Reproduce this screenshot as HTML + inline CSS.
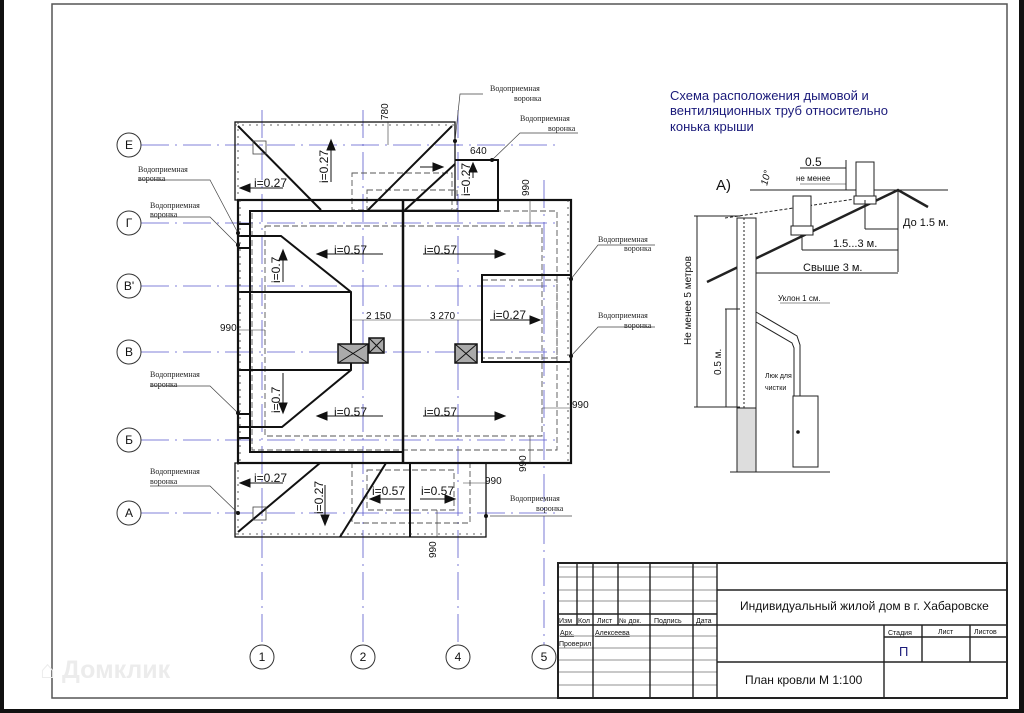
<!DOCTYPE html>
<html><head><meta charset="utf-8"><style>
html,body{margin:0;padding:0;background:#fff;width:1024px;height:713px;overflow:hidden}
svg{display:block}
.s{font-family:"Liberation Serif","DejaVu Serif",serif;font-size:8px;fill:#222}
.a{font-family:"Liberation Sans",sans-serif;fill:#111}
</style></head><body>
<svg width="1024" height="713" viewBox="0 0 1024 713" xmlns="http://www.w3.org/2000/svg">
<rect x="0" y="0" width="4" height="713" fill="#111"/>
<rect x="1019" y="0" width="5" height="713" fill="#111"/>
<rect x="0" y="709" width="1024" height="4" fill="#111"/>
<rect x="52" y="4" width="955" height="694" fill="none" stroke="#555" stroke-width="1.5"/>
<text x="40" y="678" font-family="Liberation Sans,sans-serif" font-size="25" font-weight="bold" fill="#ececec">⌂ Домклик</text>

<!-- axes -->
<g stroke="#5a5acc" stroke-width="0.8" stroke-dasharray="28,6,2,6" fill="none">
<line x1="141" y1="145" x2="560" y2="145"/><line x1="141" y1="223" x2="560" y2="223"/>
<line x1="141" y1="286" x2="560" y2="286"/><line x1="141" y1="352" x2="560" y2="352"/>
<line x1="141" y1="440" x2="560" y2="440"/><line x1="141" y1="513" x2="560" y2="513"/>
<line x1="262" y1="110" x2="262" y2="645"/><line x1="363" y1="110" x2="363" y2="645"/>
<line x1="458" y1="110" x2="458" y2="645"/><line x1="544" y1="180" x2="544" y2="645"/>
</g>
<g fill="#fff" stroke="#333" stroke-width="1">
<circle cx="129" cy="145" r="12"/><circle cx="129" cy="223" r="12"/><circle cx="129" cy="286" r="12"/>
<circle cx="129" cy="352" r="12"/><circle cx="129" cy="440" r="12"/><circle cx="129" cy="513" r="12"/>
<circle cx="262" cy="657" r="12"/><circle cx="363" cy="657" r="12"/><circle cx="458" cy="657" r="12"/><circle cx="544" cy="657" r="12"/>
</g>
<g class="a" font-size="12" text-anchor="middle">
<text x="129" y="149">Е</text><text x="129" y="227">Г</text><text x="129" y="290">В'</text><text x="129" y="356">В</text>
<text x="129" y="444">Б</text><text x="129" y="517">А</text>
<text x="262" y="661">1</text><text x="363" y="661">2</text><text x="458" y="661">4</text><text x="544" y="661">5</text>
</g>

<!-- dashed -->
<g stroke="#555" stroke-width="0.9" stroke-dasharray="6,3" fill="none">
<rect x="265" y="226" width="277" height="210"/>
<rect x="252" y="211" width="305" height="239"/>
<rect x="352" y="173" width="100" height="37"/>
<rect x="367" y="190" width="90" height="20"/>
<rect x="352" y="463" width="118" height="60"/>
<rect x="367" y="470" width="87" height="40"/>
<rect x="482" y="280" width="75" height="78"/>
</g>

<!-- roof plan thick -->
<g stroke="#111" fill="none" stroke-width="2">
<rect x="235" y="122" width="220" height="78" stroke-width="1.3"/>
<rect x="238" y="200" width="333" height="263" stroke-width="2.2"/>
<polyline points="455,160 498,160 498,211 250,211 250,452 403,452"/>
<line x1="403" y1="200" x2="403" y2="463" stroke-width="2.5"/>
<rect x="235" y="463" width="251" height="74" stroke-width="1.3"/>
<line x1="410" y1="463" x2="410" y2="537"/>
<line x1="238" y1="126" x2="321" y2="210"/>
<line x1="452" y1="126" x2="368" y2="210"/>
<line x1="455" y1="164" x2="405" y2="210"/>
<polyline points="238,236 281,236 351,292 351,370 282,427 238,427"/>
<line x1="238" y1="292" x2="351" y2="292"/><line x1="238" y1="370" x2="351" y2="370"/>
<polyline points="571,275 482,275 482,362 571,362"/>
<line x1="238" y1="532" x2="320" y2="463"/>
<line x1="340" y1="537" x2="386" y2="463"/>
<line x1="238" y1="224" x2="250" y2="224"/><line x1="238" y1="248" x2="250" y2="248"/>
<line x1="238" y1="414" x2="250" y2="414"/><line x1="238" y1="438" x2="250" y2="438"/>
</g>
<g stroke="#333" stroke-width="0.8" stroke-dasharray="2,5" fill="none">
<line x1="235" y1="125" x2="455" y2="125"/><line x1="238" y1="122" x2="238" y2="200"/>
<line x1="235" y1="534" x2="486" y2="534"/><line x1="238" y1="463" x2="238" y2="537"/>
<line x1="568" y1="200" x2="568" y2="463"/><line x1="240" y1="200" x2="240" y2="463"/>
</g>
<!-- chimneys -->
<g stroke="#111" stroke-width="1.5" fill="#aaa">
<rect x="338" y="344" width="30" height="19"/><rect x="369" y="338" width="15" height="15"/><rect x="455" y="344" width="22" height="19"/>
</g>
<g stroke="#111" stroke-width="1"><line x1="369" y1="338" x2="384" y2="353"/><line x1="384" y1="338" x2="369" y2="353"/>
<line x1="338" y1="344" x2="368" y2="363"/><line x1="368" y1="344" x2="338" y2="363"/><line x1="455" y1="344" x2="477" y2="363"/><line x1="477" y1="344" x2="455" y2="363"/></g>
<g fill="none" stroke="#444" stroke-width="0.8"><rect x="253" y="141" width="13" height="13"/><rect x="253" y="507" width="13" height="13"/></g>

<!-- slope labels & arrows -->
<g class="a" font-size="12">
<text x="334" y="254">i=0.57</text><text x="424" y="254">i=0.57</text>
<text x="334" y="416">i=0.57</text><text x="424" y="416">i=0.57</text>
<text x="493" y="319">i=0.27</text><text x="254" y="187">i=0.27</text><text x="254" y="482">i=0.27</text>
<text x="372" y="495">i=0.57</text><text x="421" y="495">i=0.57</text>
<text transform="translate(328,183) rotate(-90)">i=0.27</text>
<text transform="translate(470,196) rotate(-90)">i=0.27</text>
<text transform="translate(280,283) rotate(-90)">i=0.7</text>
<text transform="translate(280,413) rotate(-90)">i=0.7</text>
<text transform="translate(323,514) rotate(-90)">i=0.27</text>
</g>
<g stroke="#111" stroke-width="1" fill="#111">
<line x1="317" y1="254" x2="383" y2="254"/><polygon points="317,254 327,250 327,258"/>
<line x1="423" y1="254" x2="505" y2="254"/><polygon points="505,254 495,250 495,258"/>
<line x1="317" y1="416" x2="383" y2="416"/><polygon points="317,416 327,412 327,420"/>
<line x1="423" y1="416" x2="505" y2="416"/><polygon points="505,416 495,412 495,420"/>
<line x1="490" y1="320" x2="540" y2="320"/><polygon points="540,320 530,316 530,324"/>
<line x1="240" y1="188" x2="283" y2="188"/><polygon points="240,188 250,184 250,192"/>
<line x1="240" y1="483" x2="283" y2="483"/><polygon points="240,483 250,479 250,487"/>
<line x1="331" y1="182" x2="331" y2="140"/><polygon points="331,140 327,150 335,150"/>
<line x1="283" y1="282" x2="283" y2="250"/><polygon points="283,250 279,260 287,260"/>
<line x1="283" y1="373" x2="283" y2="413"/><polygon points="283,413 279,403 287,403"/>
<line x1="325" y1="485" x2="325" y2="525"/><polygon points="325,525 321,515 329,515"/>
<line x1="473" y1="178" x2="473" y2="163"/><polygon points="473,163 469,172 477,172"/>
<line x1="420" y1="167" x2="443" y2="167"/><polygon points="443,167 433,163 433,171"/>
<line x1="370" y1="499" x2="405" y2="499"/><polygon points="370,499 380,495 380,503"/>
<line x1="420" y1="499" x2="455" y2="499"/><polygon points="455,499 445,495 445,503"/>
</g>
<!-- dims -->
<g stroke="#333" stroke-width="0.6">
<line x1="351" y1="320" x2="482" y2="320"/><line x1="238" y1="330" x2="265" y2="330"/>
<line x1="542" y1="408" x2="571" y2="408"/><line x1="463" y1="483" x2="486" y2="483"/>
<line x1="530" y1="436" x2="530" y2="463"/><line x1="437" y1="510" x2="437" y2="537"/>
<line x1="530" y1="200" x2="530" y2="226"/><line x1="388" y1="122" x2="388" y2="145"/>
</g>
<g class="a" font-size="10">
<text x="366" y="319">2 150</text><text x="430" y="319">3 270</text><text x="220" y="331">990</text>
<text x="572" y="408">990</text><text x="485" y="484">990</text>
<text x="470" y="154">640</text>
<text transform="translate(388,120) rotate(-90)">780</text>
<text transform="translate(529,196) rotate(-90)">990</text>
<text transform="translate(526,472) rotate(-90)">990</text>
<text transform="translate(436,558) rotate(-90)">990</text>
</g>
<!-- leaders -->
<g stroke="#444" stroke-width="0.7" fill="none">
<polyline points="483,94 460,94 455,141"/><polyline points="578,133 520,133 492,160"/>
<polyline points="138,180 210,180 238,233"/><polyline points="150,217 210,217 238,245"/>
<polyline points="150,386 210,386 238,413"/><polyline points="150,486 210,486 238,513"/>
<polyline points="655,245 598,245 571,279"/><polyline points="655,327 598,327 571,356"/>
<polyline points="572,516 490,516"/>
</g>
<g fill="#111"><circle cx="455" cy="141" r="2"/><circle cx="492" cy="160" r="2"/><circle cx="238" cy="233" r="2"/><circle cx="238" cy="245" r="2"/><circle cx="238" cy="413" r="2"/><circle cx="238" cy="513" r="2"/><circle cx="571" cy="279" r="2"/><circle cx="571" cy="356" r="2"/><circle cx="486" cy="516" r="2"/></g>
<g class="s">
<text x="490" y="91">Водоприемная</text><text x="514" y="101">воронка</text>
<text x="520" y="121">Водоприемная</text><text x="548" y="131">воронка</text>
<text x="138" y="172">Водоприемная</text><text x="138" y="181">воронка</text>
<text x="150" y="208">Водоприемная</text><text x="150" y="217">воронка</text>
<text x="150" y="377">Водоприемная</text><text x="150" y="387">воронка</text>
<text x="150" y="474">Водоприемная</text><text x="150" y="484">воронка</text>
<text x="598" y="242">Водоприемная</text><text x="624" y="251">воронка</text>
<text x="598" y="318">Водоприемная</text><text x="624" y="328">воронка</text>
<text x="510" y="501">Водоприемная</text><text x="536" y="511">воронка</text>
</g>

<!-- right scheme -->
<g font-family="Liberation Sans,sans-serif" font-size="13" fill="#1a1a7a">
<text x="670" y="100">Схема расположения дымовой и</text><text x="670" y="115">вентиляционных труб относительно</text><text x="670" y="131">конька крыши</text>
</g>
<text x="716" y="190" class="a" font-size="15">A)</text>
<g stroke="#222" fill="none" stroke-width="1">
<line x1="750" y1="190" x2="948" y2="190"/>
<polyline points="707,282 898,190 928,207" stroke-width="2.5"/>
<line x1="725" y1="218" x2="855" y2="199" stroke-dasharray="3,2"/>
<rect x="737" y="218" width="19" height="190" fill="#fff"/>
<line x1="744" y1="218" x2="744" y2="408" stroke-dasharray="2,2"/>
<rect x="737" y="408" width="19" height="64" fill="#ddd"/>
<line x1="730" y1="472" x2="830" y2="472"/>
<rect x="793" y="396" width="25" height="71" fill="#fff"/>
<polyline points="756,312 797,336 800,345 800,396"/>
<polyline points="756,322 792,343 794,348 794,396"/>
<rect x="793" y="196" width="18" height="30" fill="#fff"/><rect x="791" y="226" width="22" height="9" fill="#fff"/>
<rect x="856" y="162" width="18" height="34" fill="#fff"/><rect x="854" y="196" width="22" height="8" fill="#fff"/>
<line x1="694" y1="216" x2="740" y2="216"/><line x1="694" y1="407" x2="740" y2="407"/><line x1="697" y1="216" x2="697" y2="407"/>
<line x1="725" y1="309" x2="740" y2="309"/><line x1="726" y1="309" x2="726" y2="407"/>
<line x1="865" y1="229" x2="898" y2="229"/><line x1="898" y1="190" x2="898" y2="272"/><line x1="865" y1="200" x2="865" y2="229"/>
<line x1="802" y1="250" x2="898" y2="250"/><line x1="802" y1="236" x2="802" y2="250"/>
<line x1="756" y1="273" x2="898" y2="273"/>
<line x1="846" y1="160" x2="846" y2="190"/><line x1="800" y1="168" x2="846" y2="168"/>
<line x1="800" y1="184" x2="846" y2="184" stroke-width="0.6"/>
<line x1="780" y1="303" x2="830" y2="303" stroke-width="0.6"/>
</g>
<circle cx="798" cy="432" r="1.8" fill="#111"/>
<g class="a" font-size="11">
<text x="903" y="226">До 1.5 м.</text><text x="833" y="247">1.5...3 м.</text><text x="803" y="271">Свыше 3 м.</text>
<text x="805" y="166" font-size="12">0.5</text><text x="796" y="181" font-size="8">не менее</text>
<text x="778" y="301" font-size="8">Уклон 1 см.</text>
<text x="765" y="378" font-size="7">Люк для</text><text x="765" y="390" font-size="7">чистки</text>
<text transform="translate(767,186) rotate(-75)" font-size="10" font-style="italic">10°</text>
<text transform="translate(691,345) rotate(-90)" font-size="10">Не менее 5 метров</text>
<text transform="translate(721,375) rotate(-90)" font-size="10">0.5 м.</text>
</g>

<!-- title block -->
<g stroke="#222" fill="none">
<rect x="558" y="563" width="449" height="135" stroke-width="2"/>
<g stroke-width="0.6">
<line x1="558" y1="567" x2="717" y2="567"/><line x1="558" y1="577" x2="717" y2="577"/><line x1="558" y1="590" x2="717" y2="590"/><line x1="558" y1="601" x2="717" y2="601"/>
<line x1="558" y1="636" x2="717" y2="636"/><line x1="558" y1="648" x2="717" y2="648"/><line x1="558" y1="660" x2="717" y2="660"/><line x1="558" y1="672" x2="717" y2="672"/><line x1="558" y1="685" x2="717" y2="685"/>
</g>
<g stroke-width="1.4">
<line x1="558" y1="614" x2="717" y2="614"/><line x1="558" y1="625" x2="1007" y2="625"/>
<line x1="577" y1="563" x2="577" y2="625"/><line x1="593" y1="563" x2="593" y2="698"/><line x1="618" y1="563" x2="618" y2="625"/>
<line x1="650" y1="563" x2="650" y2="698"/><line x1="693" y1="563" x2="693" y2="698"/><line x1="717" y1="563" x2="717" y2="698"/>
<line x1="717" y1="590" x2="1007" y2="590"/><line x1="717" y1="662" x2="1007" y2="662"/>
<line x1="884" y1="625" x2="884" y2="698"/><line x1="922" y1="625" x2="922" y2="662"/><line x1="970" y1="625" x2="970" y2="662"/>
<line x1="884" y1="637" x2="1007" y2="637"/>
</g>
</g>
<g class="a" font-size="7">
<text x="559" y="623">Изм</text><text x="578" y="623">Кол</text><text x="597" y="623">Лист</text><text x="619" y="623">№ док.</text><text x="654" y="623">Подпись</text><text x="696" y="623">Дата</text>
<text x="560" y="635" text-decoration="underline">Арх.</text><text x="595" y="635" text-decoration="underline">Алексеева</text><text x="559" y="646">Проверил</text>
<text x="888" y="635">Стадия</text><text x="938" y="634">Лист</text><text x="974" y="634">Листов</text>
</g>
<text x="740" y="610" class="a" font-size="12">Индивидуальный жилой дом в г. Хабаровске</text>
<text x="745" y="684" class="a" font-size="12">План кровли М 1:100</text>
<text x="899" y="656" font-family="Liberation Sans,sans-serif" font-size="13" fill="#1a1a7a">П</text>
</svg>
</body></html>
